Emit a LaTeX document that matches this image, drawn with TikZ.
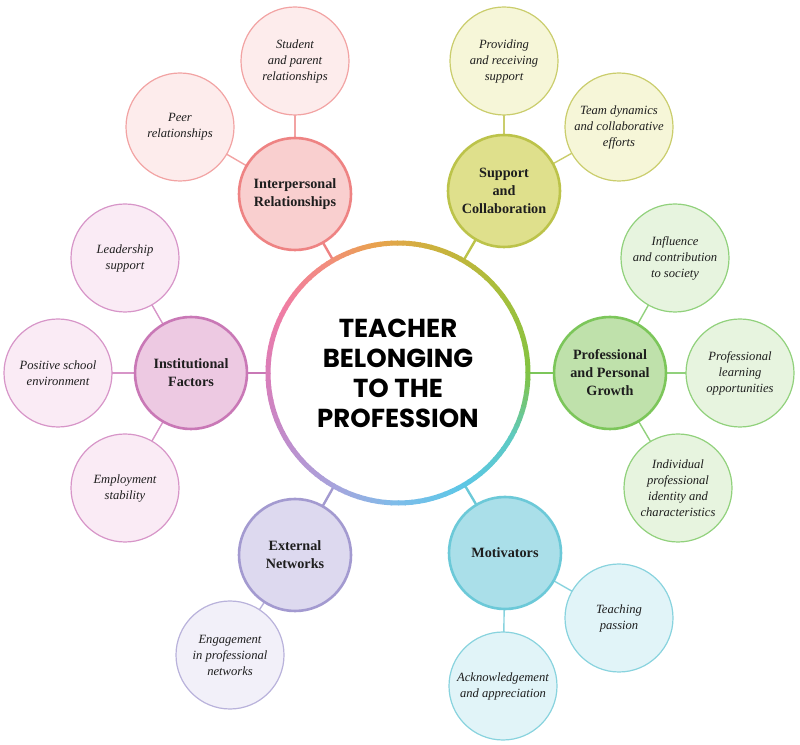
\documentclass[tikz,border=0pt]{standalone}
\usepackage{fontspec}
\setmainfont{Liberation Serif}
\newfontfamily\ctrfont{Poppins}
\usetikzlibrary{backgrounds}
\definecolor{textc}{HTML}{1E1E1E}
% category colours
\definecolor{irB}{HTML}{EE8383}\definecolor{irF}{HTML}{F9CFCF}
\definecolor{irLB}{HTML}{F2A3A3}\definecolor{irLF}{HTML}{FDECEC}
\definecolor{scB}{HTML}{BCC34A}\definecolor{scF}{HTML}{DFE08C}
\definecolor{scLB}{HTML}{CACD6C}\definecolor{scLF}{HTML}{F6F6D8}
\definecolor{pgB}{HTML}{7CC65A}\definecolor{pgF}{HTML}{BFE1AB}
\definecolor{pgLB}{HTML}{91D17C}\definecolor{pgLF}{HTML}{E7F4DF}
\definecolor{ifB}{HTML}{C978B6}\definecolor{ifF}{HTML}{EDC9E2}
\definecolor{ifLB}{HTML}{D795C8}\definecolor{ifLF}{HTML}{FAEBF5}
\definecolor{enB}{HTML}{A39AD0}\definecolor{enF}{HTML}{DDD9EF}
\definecolor{enLB}{HTML}{B9B2DB}\definecolor{enLF}{HTML}{F2F0F9}
\definecolor{moB}{HTML}{6CC9D8}\definecolor{moF}{HTML}{AADFE9}
\definecolor{moLB}{HTML}{88D3DE}\definecolor{moLF}{HTML}{E1F4F8}
% ring stops
\definecolor{ra}{HTML}{82C342}
\definecolor{rb}{HTML}{A9BE3B}
\definecolor{rc}{HTML}{CDB13D}
\definecolor{rd}{HTML}{E9A24E}
\definecolor{re}{HTML}{F28C80}
\definecolor{rf}{HTML}{F07DA3}
\definecolor{rg}{HTML}{DA7DB9}
\definecolor{rh}{HTML}{C18CCB}
\definecolor{ri}{HTML}{A8A3DC}
\definecolor{rj}{HTML}{7DBDEA}
\definecolor{rk}{HTML}{5CC7E6}
\definecolor{rl}{HTML}{5DCAC3}
\begin{document}
\begin{tikzpicture}[x=1pt,y=1pt,
  catnode/.style={circle, minimum size=112pt, line width=2.6pt, inner sep=0pt,
    align=center, text=textc, font=\bfseries\fontsize{14.2}{18}\selectfont},
  leafnode/.style={circle, minimum size=108pt, line width=1.2pt, inner sep=0pt,
    align=center, text=textc, font=\itshape\fontsize{12.6}{16}\selectfont},
  catlink/.style={line width=2.4pt},
  leaflink/.style={line width=1.4pt}]
\useasboundingbox (0,0) rectangle (800,744);

% ---- centre
\node[circle, minimum size=260pt, inner sep=0pt, outer sep=2pt, fill=white, align=center,
  font=\ctrfont\bfseries\fontsize{26}{30}\selectfont, text=black] (C) at (398,371)
  {TEACHER\\BELONGING\\TO THE\\PROFESSION};

% ---- categories
\node[catnode, draw=irB, fill=irF] (IR) at (295,550) {Interpersonal\\Relationships};
\node[catnode, draw=scB, fill=scF] (SC) at (504,553) {Support\\and\\Collaboration};
\node[catnode, draw=pgB, fill=pgF] (PG) at (610,371) {Professional\\and Personal\\Growth};
\node[catnode, draw=ifB, fill=ifF] (IF) at (191,371) {Institutional\\Factors};
\node[catnode, draw=enB, fill=enF] (EN) at (295,189) {External\\Networks};
\node[catnode, draw=moB, fill=moF] (MO) at (505,191) {Motivators};

% ---- leaves
\node[leafnode, draw=irLB, fill=irLF] (SP) at (295,683) {Student\\and parent\\relationships};
\node[leafnode, draw=irLB, fill=irLF] (PR) at (180,617) {Peer\\relationships};
\node[leafnode, draw=scLB, fill=scLF] (PV) at (504,683) {Providing\\and receiving\\support};
\node[leafnode, draw=scLB, fill=scLF] (TD) at (619,617) {Team dynamics\\and collaborative\\efforts};
\node[leafnode, draw=pgLB, fill=pgLF] (IC) at (675,486) {Influence\\and contribution\\to society};
\node[leafnode, draw=pgLB, fill=pgLF] (PL) at (740,371) {Professional\\learning\\opportunities};
\node[leafnode, draw=pgLB, fill=pgLF] (IP) at (678,256) {Individual\\professional\\identity and\\characteristics};
\node[leafnode, draw=moLB, fill=moLF] (TP) at (619,126) {Teaching\\passion};
\node[leafnode, draw=moLB, fill=moLF] (AA) at (503,58) {Acknowledgement\\and appreciation};
\node[leafnode, draw=enLB, fill=enLF] (EP) at (230,89) {Engagement\\in professional\\networks};
\node[leafnode, draw=ifLB, fill=ifLF] (LS) at (125,486) {Leadership\\support};
\node[leafnode, draw=ifLB, fill=ifLF] (PS) at (58,371) {Positive school\\environment};
\node[leafnode, draw=ifLB, fill=ifLF] (ES) at (125,256) {Employment\\stability};

% ---- connectors (behind circles)
\begin{scope}[on background layer]
\draw[catlink, irB] (C.center) -- (IR.center);
\draw[catlink, scB] (C.center) -- (SC.center);
\draw[catlink, pgB] (C.center) -- (PG.center);
\draw[catlink, ifB] (C.center) -- (IF.center);
\draw[catlink, enB] (C.center) -- (EN.center);
\draw[catlink, moB] (C.center) -- (MO.center);
\draw[leaflink, irLB] (IR.center) -- (SP.center);
\draw[leaflink, irLB] (IR.center) -- (PR.center);
\draw[leaflink, scLB] (SC.center) -- (PV.center);
\draw[leaflink, scLB] (SC.center) -- (TD.center);
\draw[leaflink, pgLB] (PG.center) -- (IC.center);
\draw[leaflink, pgLB] (PG.center) -- (PL.center);
\draw[leaflink, pgLB] (PG.center) -- (IP.center);
\draw[leaflink, moLB] (MO.center) -- (TP.center);
\draw[leaflink, moLB] (MO.center) -- (AA.center);
\draw[leaflink, enLB] (EN.center) -- (EP.center);
\draw[leaflink, ifLB] (IF.center) -- (LS.center);
\draw[leaflink, ifLB] (IF.center) -- (PS.center);
\draw[leaflink, ifLB] (IF.center) -- (ES.center);
\end{scope}

% ---- gradient ring
\foreach \a/\b/\ca/\cb in {0/40/ra/rb, 40/75/rb/rc, 75/100/rc/rd, 100/125/rd/re,
  125/150/re/rf, 150/180/rf/rg, 180/210/rg/rh, 210/240/rh/ri, 240/270/ri/rj,
  270/300/rj/rk, 300/330/rk/rl, 330/360/rl/ra}{
  \foreach \k in {0,...,9}{
    \pgfmathsetmacro\s{\a+\k*(\b-\a)/10}
    \pgfmathsetmacro\e{\s+(\b-\a)/10+0.5}
    \pgfmathtruncatemacro\p{\k*10+5}
    \draw[line width=5pt, color=\cb!\p!\ca]
      ([shift={(\s:130pt)}]C.center) arc[start angle=\s, end angle=\e, radius=130pt];
  }
}
\end{tikzpicture}
\end{document}
